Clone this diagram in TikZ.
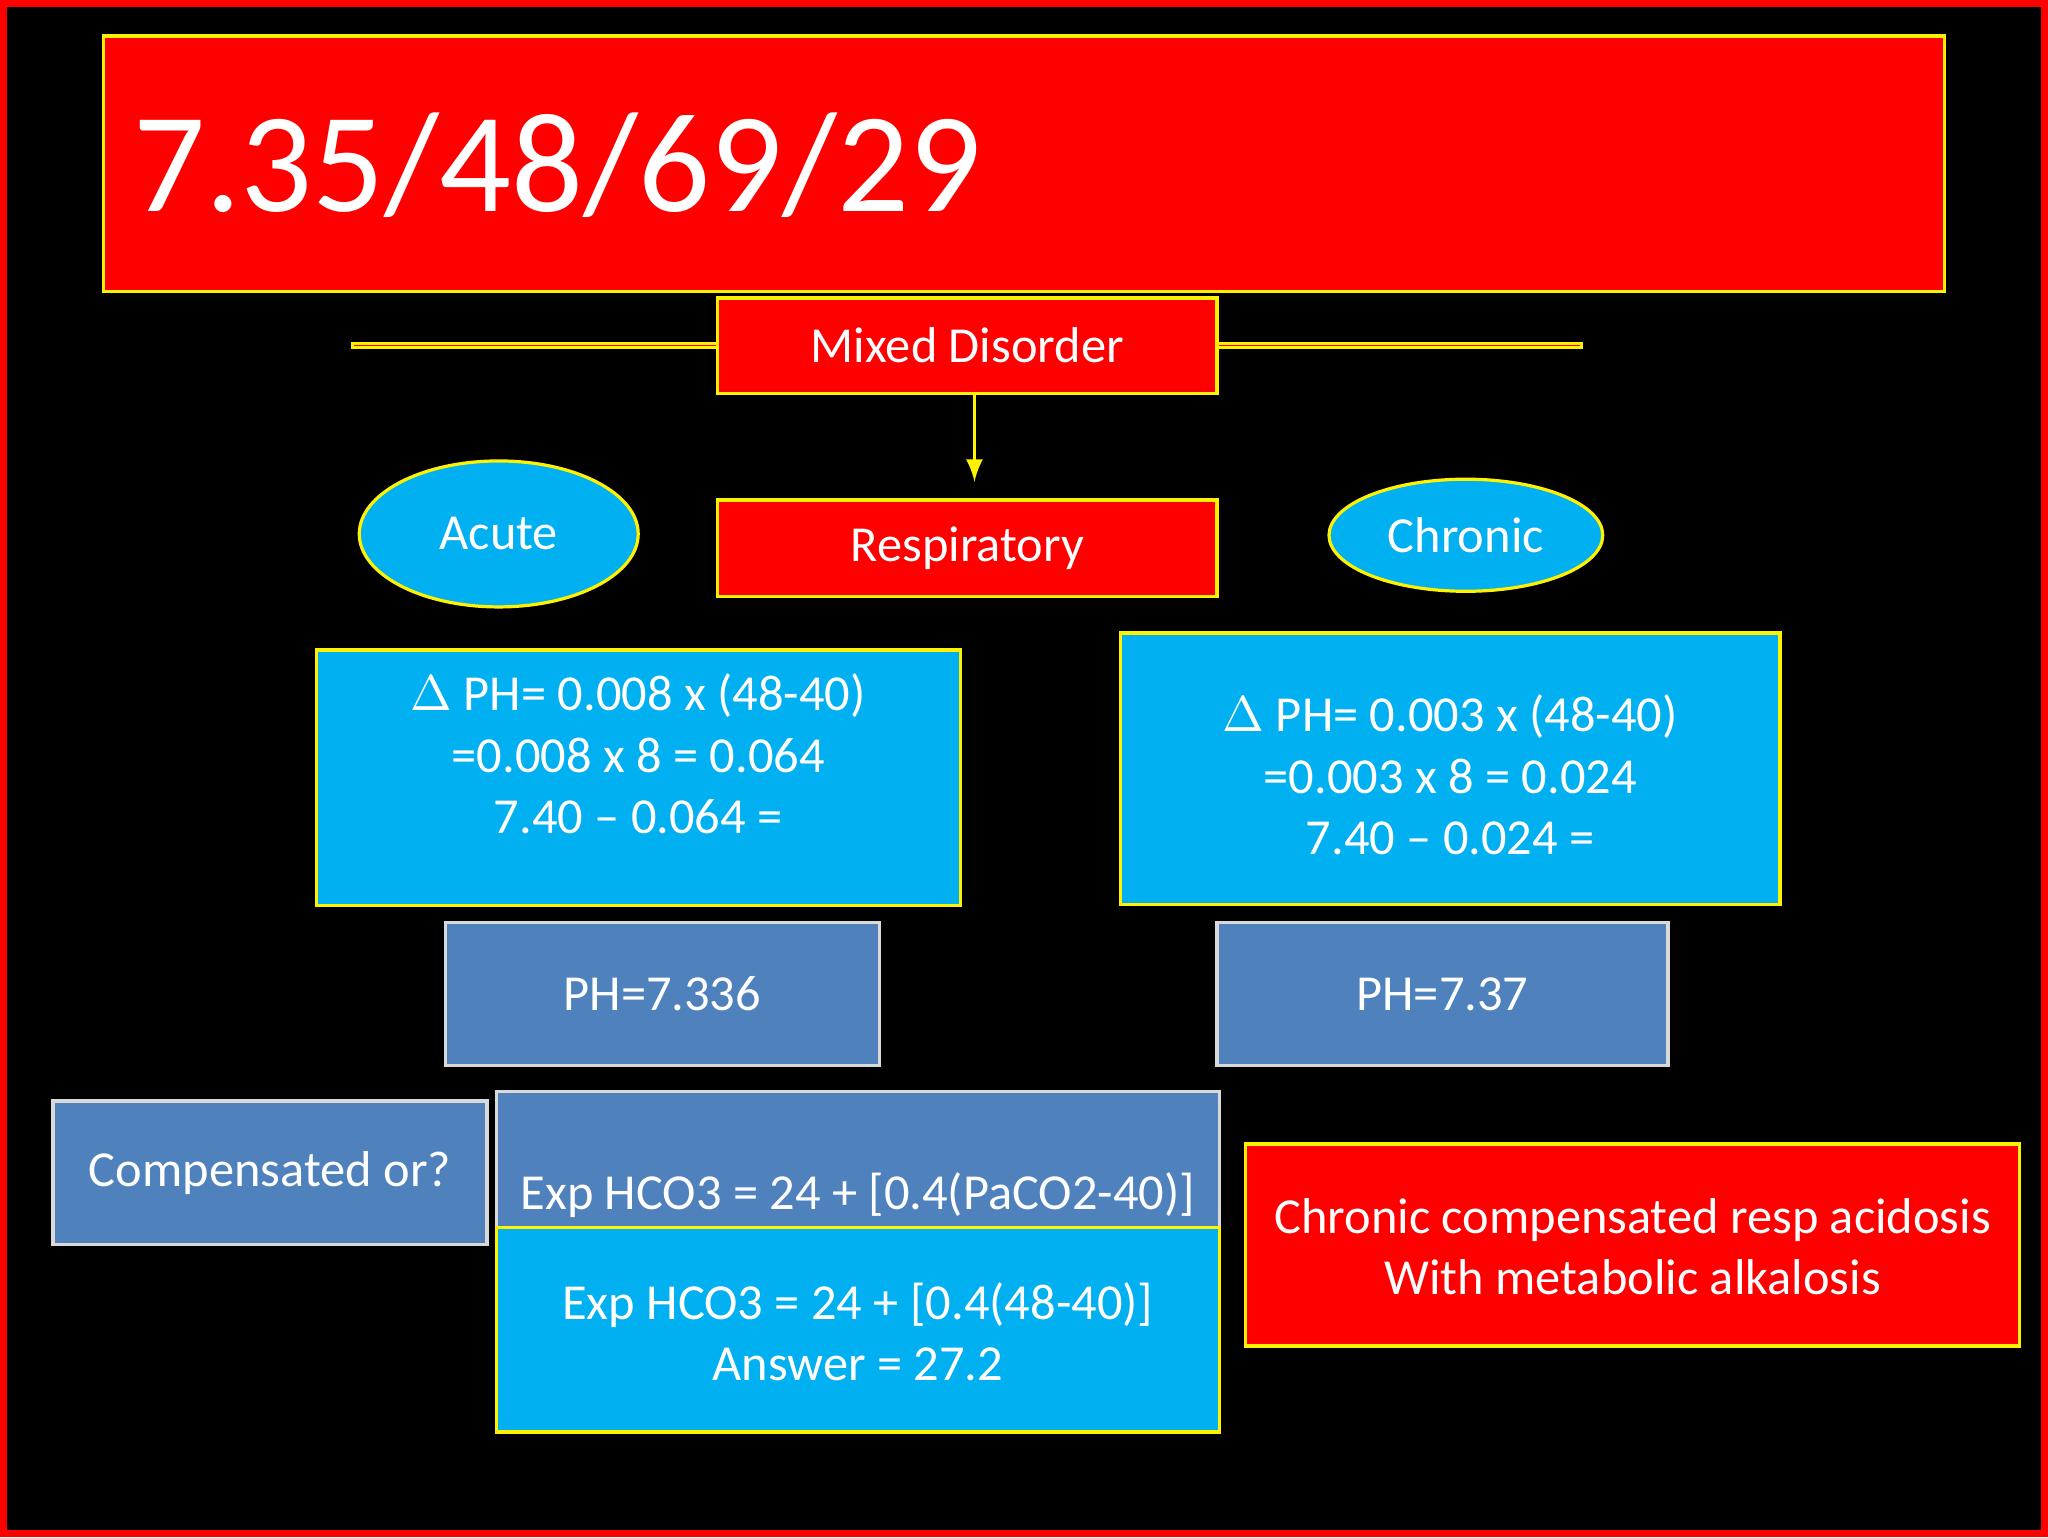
\documentclass[tikz,border=0pt]{standalone}
\usepackage{fontspec}
\setmainfont{Carlito}
\begin{document}
\begin{tikzpicture}[x=0.01cm,y=-0.01cm,
  txt/.style={text=white,font=\fontsize{11}{13.4}\selectfont,align=center},
  redbox/.style={draw=yellow,fill=red,line width=0.7pt},
  cyanbox/.style={draw=yellow,fill=cyan!70!blue!90!white,line width=0.7pt},
  steelbox/.style={draw=white!85!black,fill=steel,line width=0.7pt}]
\definecolor{steel}{HTML}{4F81BD}
\definecolor{skyc}{HTML}{00B0F0}
\tikzset{cyanbox/.style={draw=yellow,fill=skyc,line width=0.7pt}}
% background and frame
\fill[black] (0,0) rectangle (1568,1176);
\draw[red,line width=1.5pt] (1,1) rectangle (1567,1175);
% title
\draw[redbox] (78,26) rectangle (1490,222);
\node[txt,anchor=west,font=\fontsize{31}{36}\selectfont] (title) at (88,125) {7.35/48/69/29};
% mixed / respiratory
\node[redbox,txt,minimum width=383\pgflinewidth,inner sep=0pt] (mixed) at (740.5,263.5) {};
\draw[redbox] (549,227) rectangle (932,300);
\node[txt] (mixedt) at (740.5,263.5) {Mixed Disorder};
\coordinate (arrend) at (746,368);
\draw[yellow,line width=0.7pt,-latex] (746,300) -- (arrend);
\draw[redbox] (549,382) rectangle (932,456);
\node[txt] (resp) at (740.5,419) {Respiratory};
% ellipses
\draw[cyanbox] (381,408) ellipse [x radius=107,y radius=56];
\node[txt] (acute) at (381,408) {Acute};
\draw[cyanbox] (1123,409) ellipse [x radius=105,y radius=43];
\node[txt] (chronic) at (1123,409) {Chronic};
% calculation boxes
\draw[cyanbox] (241,497) rectangle (735,693);
\node[txt,anchor=north] (calcA) at (488,503) {$\Delta$ PH= 0.008 x (48-40)\\=0.008 x 8 = 0.064\\7.40 -- 0.064 =};
\draw[cyanbox] (858,484) rectangle (1364,692);
\node[txt,anchor=north] (calcC) at (1111,519) {$\Delta$ PH= 0.003 x (48-40)\\=0.003 x 8 = 0.024\\7.40 -- 0.024 =};
% ph results
\draw[steelbox] (340,706) rectangle (673,816);
\node[txt] (phA) at (506.5,761) {PH=7.336};
\draw[steelbox] (932,706) rectangle (1278,816);
\node[txt] (phC) at (1105,761) {PH=7.37};
% compensation
\draw[steelbox] (39,843) rectangle (372,953);
\node[txt] (comp) at (205.5,898) {Compensated or?};
\draw[steelbox] (379,836) rectangle (934,940);
\node[txt] (exp) at (656.5,915) {Exp HCO3 = 24 + [0.4(PaCO2-40)]};
\draw[cyanbox] (379,940) rectangle (934,1097);
\node[txt] (ans) at (656.5,1020) {Exp HCO3 = 24 + [0.4(48-40)]\\Answer = 27.2};
\draw[redbox] (954,876) rectangle (1548,1031);
\node[txt] (concl) at (1251,955) {Chronic compensated resp acidosis\\With metabolic alkalosis};
\end{tikzpicture}
\end{document}
